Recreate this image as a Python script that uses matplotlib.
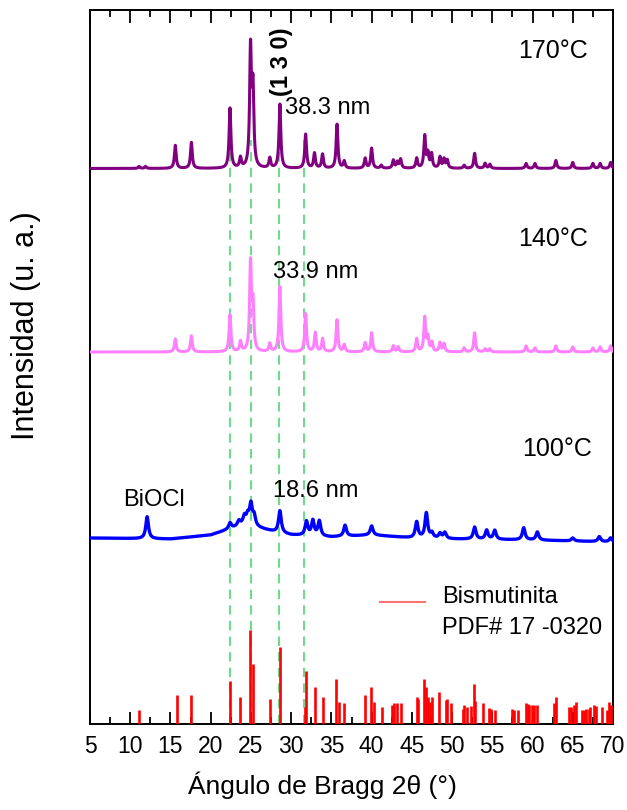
import numpy as np
import matplotlib.pyplot as plt
from matplotlib.ticker import MultipleLocator

plt.rcParams['font.family'] = ['Liberation Sans', 'DejaVu Sans']

# ---- data (intensities in arbitrary units) ----
# 170 °C sample: peak positions (2theta) and heights above baseline
pos_170 = [11.1, 11.9, 15.6, 17.6, 22.4, 23.7, 24.95, 25.25, 27.35, 28.6, 31.8, 32.9,
           33.9, 35.7, 36.6, 39.2, 40.0, 41.2, 42.7, 43.2, 43.6, 45.6, 46.6, 47.0,
           47.45, 48.5, 49.0, 49.4, 51.5, 52.8, 54.1, 54.7, 59.2, 60.3, 62.9, 65.0,
           67.5, 68.4, 69.7]
hgt_170 = [2, 2, 23, 26, 60, 10, 117, 76, 10, 64, 34, 15,
           14, 44, 7, 10, 20, 3, 8, 6, 9, 10, 32, 14,
           14, 11, 9, 8, 3, 15, 5, 4, 5, 5, 8, 6,
           5, 5, 6]
base_170 = 555.5

# 140 °C sample
pos_140 = [15.6, 17.6, 22.4, 23.7, 24.95, 25.25, 27.35, 28.6, 31.8, 33.0, 33.9, 35.7,
           36.6, 39.2, 40.0, 42.7, 43.3, 45.6, 46.6, 47.0, 47.5, 48.5, 49.0, 51.5,
           52.8, 54.1, 54.7, 59.2, 60.3, 62.9, 65.0, 67.5, 68.4, 69.7]
hgt_140 = [13, 16, 37, 10, 87, 44, 8, 65, 38, 19, 13, 32,
           7, 9, 19, 6, 5, 13, 34, 14, 9, 9, 8, 4,
           19, 3, 3, 6, 4, 6, 5, 4, 5, 6]
base_140 = 372

# 100 °C sample (broad amorphous hump in the baseline)
pos_100 = [12.1, 22.4, 23.5, 24.2, 24.6, 25.0, 25.4, 28.6, 31.9, 32.7, 33.5, 36.7,
           40.0, 45.6, 46.8, 47.5, 48.5, 49.1, 52.8, 54.3, 55.3, 58.9, 60.6, 65.0,
           68.3, 69.7]
hgt_100 = [22, 6, 5, 8, 9, 21, 10, 22, 14, 15, 15, 11,
           9, 16, 25, 5, 5, 6, 12, 9, 9, 12, 8, 3,
           5, 4]
bg_x_100 = [5, 15, 20, 22, 24, 26, 28, 30, 35, 40, 45, 50, 60, 70]
bg_y_100 = [186, 185, 189, 194, 199, 196, 192, 189, 187, 189, 186, 185, 184, 182]

# Reference pattern: Bismutinita PDF# 17-0320
ref_pos = [11.1, 15.8, 17.6, 22.4, 23.7, 24.9, 25.2, 27.4, 28.6, 31.7, 31.8, 33.0,
           33.9, 35.6, 36.0, 36.6, 39.2, 39.9, 40.3, 41.3, 42.5, 42.8, 43.1, 43.7,
           45.6, 45.8, 46.5, 46.8, 47.0, 47.2, 47.5, 48.4, 49.2, 49.4, 49.9, 51.3,
           51.5, 51.9, 52.3, 52.7, 52.9, 53.9, 54.6, 54.8, 55.3, 57.5, 57.7, 58.2,
           59.2, 59.4, 59.6, 59.9, 60.2, 60.5, 62.7, 62.9, 64.5, 64.8, 65.1, 65.4,
           66.2, 66.4, 66.7, 67.0, 67.2, 67.7, 67.9, 68.6, 69.3, 69.5, 69.7]
ref_int = [14, 29, 29, 43, 27, 94, 60, 25, 77, 17, 53, 37,
           27, 45, 22, 21, 29, 37, 22, 17, 19, 21, 21, 21,
           27, 25, 45, 37, 27, 22, 27, 32, 24, 25, 21, 15,
           19, 17, 18, 40, 23, 21, 16, 15, 14, 15, 14, 14,
           21, 20, 19, 19, 19, 19, 21, 27, 17, 17, 19, 22,
           14, 14, 15, 15, 17, 19, 18, 17, 14, 22, 19]

guide_pos = [22.4, 25.05, 28.5, 31.6]


def profile(x, pos, hgt, fwhm):
    g = fwhm / 2
    y = np.zeros_like(x)
    for p, h in zip(pos, hgt):
        y += h * g**2 / ((x - p)**2 + g**2)
    return y


x = np.linspace(5, 70, 6501)
y170 = base_170 + profile(x, pos_170, hgt_170, 0.26)
y140 = base_140 + profile(x, pos_140, hgt_140, 0.26)
y100 = np.interp(x, bg_x_100, bg_y_100) + profile(x, pos_100, hgt_100, 0.4)

fig = plt.figure(figsize=(6.27, 8.10), dpi=100)
ax = fig.add_axes([90/627, 1 - 724/810, 523/627, 714.5/810])

ax.vlines(guide_pos, 0, 584, colors='#6fdc8c', linestyles=(0, (4.5, 3)), lw=1.5, zorder=1)
ax.plot(x, y170, color='#800080', lw=2.2, zorder=3)
ax.plot(x, y140, color='#ff80ff', lw=2.2, zorder=3)
ax.plot(x, y100, color='#0000ff', lw=2.4, zorder=3)
ax.vlines(ref_pos, 0, ref_int, colors='red', lw=1.9, zorder=3)

ax.set_xlim(5, 70)
ax.set_ylim(0, 714.5)
ax.set_yticks([])
ax.xaxis.set_major_locator(MultipleLocator(5))
ax.xaxis.set_minor_locator(MultipleLocator(2.5))
ax.tick_params(axis='x', which='both', direction='in', top=True, width=1.3,
               labelsize=16.5, pad=8)
ax.tick_params(axis='x', which='major', length=9)
ax.tick_params(axis='x', which='minor', length=5)
for s in ax.spines.values():
    s.set_linewidth(1.4)

ts = 17
ax.text(66.9, 724 - 51, '170°C', ha='right', va='center', fontsize=18)
ax.text(66.9, 724 - 239, '140°C', ha='right', va='center', fontsize=18)
ax.text(67.4, 724 - 449, '100°C', ha='right', va='center', fontsize=18)
ax.text(29.2, 724 - 108, '38.3 nm', ha='left', va='center', fontsize=ts)
ax.text(27.8, 724 - 272, '33.9 nm', ha='left', va='center', fontsize=ts)
ax.text(27.8, 724 - 491, '18.6 nm', ha='left', va='center', fontsize=ts)
ax.text(9.1, 724 - 500, 'BiOCl', ha='left', va='center', fontsize=ts)
ax.text(28.8, 724 - 62, '(1 3 0)', ha='center', va='center', rotation=90,
        fontsize=ts, fontweight='bold')

ax.plot([41.0, 46.6], [724 - 602] * 2, color='red', lw=1.5, alpha=0.55)
ax.text(48.8, 724 - 597, 'Bismutinita', ha='left', va='center', fontsize=ts)
ax.text(48.8, 724 - 628, 'PDF# 17 -0320', ha='left', va='center', fontsize=ts)

fig.text(322/627, 1 - 785/810, 'Ángulo de Bragg 2θ (°)', ha='center', va='center', fontsize=19)
fig.text(26/627, 1 - 326/810, 'Intensidad (u. a.)', ha='center', va='center',
         rotation=90, fontsize=22)

fig.savefig('out.png', dpi=100)
